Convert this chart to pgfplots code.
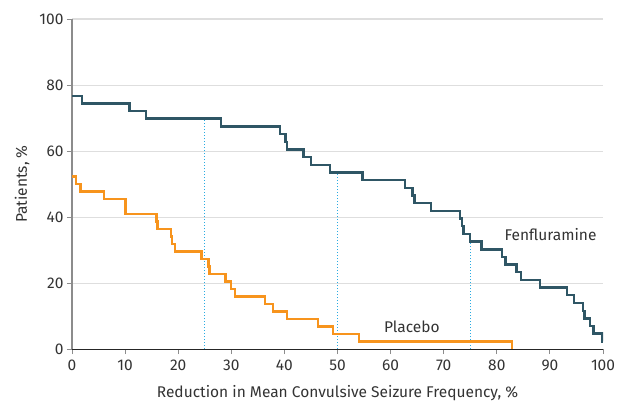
\documentclass[border=0pt]{standalone}
\usepackage{fontspec}
\setmainfont{Fira Sans}
\usepackage{pgfplots}
\pgfplotsset{compat=1.18}
\usetikzlibrary{calc}
\definecolor{fenf}{RGB}{47,86,101}
\definecolor{plac}{RGB}{247,148,29}
\definecolor{refl}{RGB}{41,171,226}
\definecolor{txt}{RGB}{51,51,51}
\definecolor{gridc}{RGB}{222,222,222}
\newcommand{\lbl}{\fontsize{15.5}{18}\selectfont}
\begin{document}
\begin{tikzpicture}
\begin{axis}[
  scale only axis, width=531pt, height=330pt,
  xmin=0, xmax=100, ymin=0, ymax=100,
  xtick={0,10,...,100}, ytick={0,20,...,100},
  axis x line*=bottom, axis y line*=left,
  x axis line style={black!85, line width=1pt},
  y axis line style={black!45, line width=1.2pt},
  tick align=outside, major tick length=5pt,
  tick style={black!45, line width=0.9pt},
  ymajorgrids, grid style={gridc, line width=1pt},
  /pgf/number format/assume math mode=true,
  ticklabel style={font=\lbl, text=txt},
  xticklabel style={yshift=-2pt},
  label style={font=\lbl, text=txt},
  xlabel={Reduction in Mean Convulsive Seizure Frequency, \%},
  ylabel={Patients, \%},
  xlabel style={at={(axis description cs:0.5,-0.133)}, anchor=center},
  ylabel style={at={(axis description cs:-0.094,0.5)}, anchor=center},
]
\addplot[refl, dotted, line width=1pt] coordinates {(25,0) (25,69.8)};
\addplot[refl, dotted, line width=1pt] coordinates {(50,0) (50,53.5)};
\addplot[refl, dotted, line width=1pt] coordinates {(75,0) (75,32.6)};
\addplot[const plot, fenf, line width=2.4pt, mark=none] coordinates {
(0,76.7) (1.9,74.4) (10.8,72.1) (13.9,69.8) (28.1,67.4) (39.2,65.1) (40.2,62.8)
(40.5,60.5) (43.6,58.1) (45.0,55.8) (48.6,53.5) (54.7,51.2) (62.7,48.8) (64.1,46.5)
(64.5,44.2) (67.6,41.9) (73.1,39.5) (73.4,37.2) (73.7,34.9) (74.9,32.6) (77.1,30.2)
(81.0,27.9) (81.6,25.6) (83.7,23.3) (84.6,20.9) (88.1,18.6) (93.2,16.3) (94.5,14.0)
(96.2,11.6) (96.5,9.3) (97.6,7.0) (98.2,4.7) (99.9,2.3) (100,2.3)};
\addplot[const plot, plac, line width=2.4pt, mark=none] coordinates {
(0,52.3) (0.75,50.0) (1.6,47.7) (6.0,45.5) (10.1,40.9) (15.9,38.6) (16.1,36.4)
(18.6,34.1) (18.8,31.8) (19.4,29.5) (24.4,27.3) (25.7,25.0) (25.9,22.7) (28.9,20.5)
(29.9,18.2) (30.7,15.9) (36.3,13.6) (37.9,11.4) (40.5,9.1) (46.3,6.8) (49.1,4.5)
(54.1,2.3) (82.9,0)};
\node[anchor=west, text=txt, font=\lbl] at (axis cs:80.8,34.8) {Fenfluramine};
\node[anchor=west, text=txt, font=\lbl] at (axis cs:58.1,6.8) {Placebo};
\end{axis}
\pgfresetboundingbox
\path[use as bounding box] ($(current axis.south west)+(-72pt,-53pt)$) rectangle ($(current axis.north east)+(14pt,19pt)$);
\end{tikzpicture}
\end{document}
